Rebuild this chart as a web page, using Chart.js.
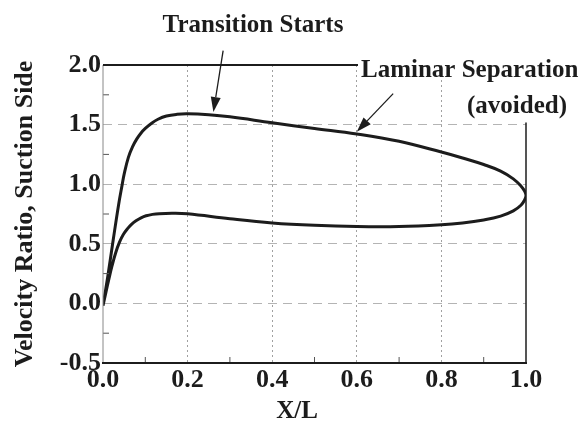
<!DOCTYPE html>
<html><head><meta charset="utf-8">
<script src="https://cdn.jsdelivr.net/npm/chart.js@4/dist/chart.umd.min.js"></script>
<style>html,body{margin:0;padding:0;background:#fff}#wrap{width:588px;height:426px}</style>
</head><body><div id="wrap"><canvas id="c" width="588" height="426"></canvas></div>
<script>
// Upper branch of the velocity-ratio loop (leading edge -> trailing edge)
const upperX = [0, 0.011, 0.024, 0.037, 0.045, 0.05, 0.06, 0.07, 0.08, 0.09, 0.1, 0.115, 0.13, 0.15, 0.175, 0.2, 0.25, 0.3, 0.4, 0.5, 0.6, 0.7, 0.8, 0.85, 0.9, 0.94, 0.97, 0.988, 0.997, 1.0];
const upperY = [-0.02, 0.22, 0.53, 0.83, 0.99, 1.085, 1.225, 1.315, 1.38, 1.43, 1.468, 1.512, 1.545, 1.572, 1.586, 1.59, 1.582, 1.565, 1.515, 1.468, 1.422, 1.36, 1.27, 1.22, 1.165, 1.11, 1.045, 0.985, 0.94, 0.905];
// Lower branch (leading edge -> trailing edge)
const lowerX = [0, 0.007, 0.014, 0.021, 0.03, 0.039, 0.048, 0.058, 0.068, 0.078, 0.09, 0.102, 0.117, 0.133, 0.165, 0.2, 0.3, 0.4, 0.5, 0.6, 0.7, 0.8, 0.85, 0.9, 0.94, 0.97, 0.988, 0.997, 1.0];
const lowerY = [-0.02, 0.095, 0.205, 0.31, 0.425, 0.514, 0.578, 0.627, 0.665, 0.693, 0.718, 0.735, 0.747, 0.753, 0.756, 0.752, 0.71, 0.675, 0.655, 0.645, 0.645, 0.66, 0.675, 0.7, 0.732, 0.776, 0.823, 0.87, 0.905];
const xTicks = [0, 0.2, 0.4, 0.6, 0.8, 1.0];
const yTicks = [-0.5, 0, 0.5, 1.0, 1.5, 2.0];
const xMinor = [0.1, 0.3, 0.5, 0.7, 0.9];
const yMinor = [-0.25, 0.25, 0.75, 1.25, 1.75];
const xTitle = 'X/L';
const yTitle = 'Velocity Ratio, Suction Side';
const noteTransition = 'Transition Starts';
const noteLaminar1 = 'Laminar Separation';
const noteLaminar2 = '(avoided)';
// arrow tail/tip in data units
const arrowTransition = {x0: 0.284, y0: 2.12, x1: 0.261, y1: 1.605};
const arrowLaminar = {x0: 0.686, y0: 1.76, x1: 0.600, y1: 1.44};

const loop = [];
for (let i = 0; i < upperX.length; i++) loop.push({x: upperX[i], y: upperY[i]});
for (let i = lowerX.length - 2; i >= 0; i--) loop.push({x: lowerX[i], y: lowerY[i]});

const SERIF = '"Liberation Serif","Times New Roman",Times,serif';
const INK = '#1c1c1c';

function arrow(ctx, x0, y0, x1, y1) {
  const ang = Math.atan2(y1 - y0, x1 - x0);
  const L = 15, W = 5;
  const bx = x1 - L * Math.cos(ang), by = y1 - L * Math.sin(ang);
  ctx.beginPath(); ctx.moveTo(x0, y0); ctx.lineTo(bx, by); ctx.stroke();
  ctx.beginPath();
  ctx.moveTo(x1, y1);
  ctx.lineTo(bx + W * Math.sin(ang), by - W * Math.cos(ang));
  ctx.lineTo(bx - W * Math.sin(ang), by + W * Math.cos(ang));
  ctx.closePath(); ctx.fill();
}

const decor = {
  id: 'decor',
  afterDraw(chart) {
    const {ctx, chartArea: a, scales: {x, y}} = chart;
    ctx.save();
    ctx.lineCap = 'butt';
    // minor ticks
    ctx.strokeStyle = '#555'; ctx.lineWidth = 1;
    xMinor.forEach(v => { const px = x.getPixelForValue(v); ctx.beginPath(); ctx.moveTo(px, a.bottom); ctx.lineTo(px, a.bottom - 6); ctx.stroke(); });
    yMinor.forEach(v => { const py = y.getPixelForValue(v); ctx.beginPath(); ctx.moveTo(a.left, py); ctx.lineTo(a.left + 6, py); ctx.stroke(); });
    // texts
    ctx.fillStyle = INK;
    ctx.font = 'bold 25px ' + SERIF;
    ctx.textBaseline = 'middle';
    ctx.textAlign = 'center';
    ctx.fillText(noteTransition, 253, 26);
    ctx.textAlign = 'left';
    const lamLeft = 361;
    ctx.fillText(noteLaminar1, lamLeft, 71);
    ctx.textAlign = 'right';
    ctx.fillText(noteLaminar2, 567, 107);
    ctx.textAlign = 'center';
    ctx.fillText(xTitle, 297, 412);
    // frame
    ctx.strokeStyle = '#888'; ctx.lineWidth = 1;
    ctx.beginPath(); ctx.moveTo(a.left, a.top); ctx.lineTo(a.left, a.bottom); ctx.stroke();
    ctx.strokeStyle = INK; ctx.lineWidth = 2;
    ctx.beginPath(); ctx.moveTo(a.left - 1, a.bottom); ctx.lineTo(a.right + 1, a.bottom); ctx.stroke();
    ctx.beginPath(); ctx.moveTo(a.left, a.top); ctx.lineTo(lamLeft - 3, a.top); ctx.stroke();
    ctx.lineWidth = 1.5;
    ctx.beginPath(); ctx.moveTo(a.right, y.getPixelForValue(1.5) - 2); ctx.lineTo(a.right, a.bottom); ctx.stroke();
    // arrows
    ctx.lineWidth = 1.3; ctx.fillStyle = INK;
    [arrowTransition, arrowLaminar].forEach(r => arrow(ctx, x.getPixelForValue(r.x0), y.getPixelForValue(r.y0), x.getPixelForValue(r.x1), y.getPixelForValue(r.y1)));
    ctx.restore();
  }
};

new Chart(document.getElementById('c'), {
  type: 'scatter',
  data: { datasets: [{
    label: 'Velocity ratio',
    data: loop,
    showLine: true,
    borderColor: INK,
    borderWidth: 3,
    pointRadius: 0,
    tension: 0.4,
    fill: false
  }]},
  options: {
    responsive: false,
    animation: false,
    layout: { padding: { top: 65, right: 62, left: 0, bottom: 0 } },
    plugins: { legend: { display: false }, tooltip: { enabled: false } },
    scales: {
      x: {
        type: 'linear', min: 0, max: 1.0,
        afterBuildTicks: s => { s.ticks = xTicks.map(v => ({value: v})); },
        afterFit: s => { s.height = 63; },
        ticks: { color: INK, font: { family: SERIF, size: 26, weight: 'bold' }, padding: 2, maxRotation: 0,
                 callback: v => Number(v).toFixed(1) },
        grid: { drawTicks: false, lineWidth: 1,
                color: c => (c.tick && (c.tick.value === 0 || c.tick.value === 1)) ? 'rgba(0,0,0,0)' : '#a0a0a0' },
        border: { display: false, dash: [2, 3] }
      },
      y: {
        type: 'linear', min: -0.5, max: 2.0,
        afterBuildTicks: s => { s.ticks = yTicks.map(v => ({value: v})); },
        afterFit: s => { s.width = 103; },
        ticks: { color: INK, font: { family: SERIF, size: 26, weight: 'bold' }, padding: 2,
                 callback: v => Number(v).toFixed(1) },
        grid: { drawTicks: false, lineWidth: 1,
                color: c => (c.tick && (c.tick.value === -0.5 || c.tick.value === 2)) ? 'rgba(0,0,0,0)' : '#b4b4b4' },
        border: { display: false, dash: [9, 6] },
        title: { display: true, text: yTitle, color: INK, font: { family: SERIF, size: 26, weight: 'bold' }, padding: { top: 10, bottom: 0 } }
      }
    }
  },
  plugins: [decor]
});
</script>
</body></html>
